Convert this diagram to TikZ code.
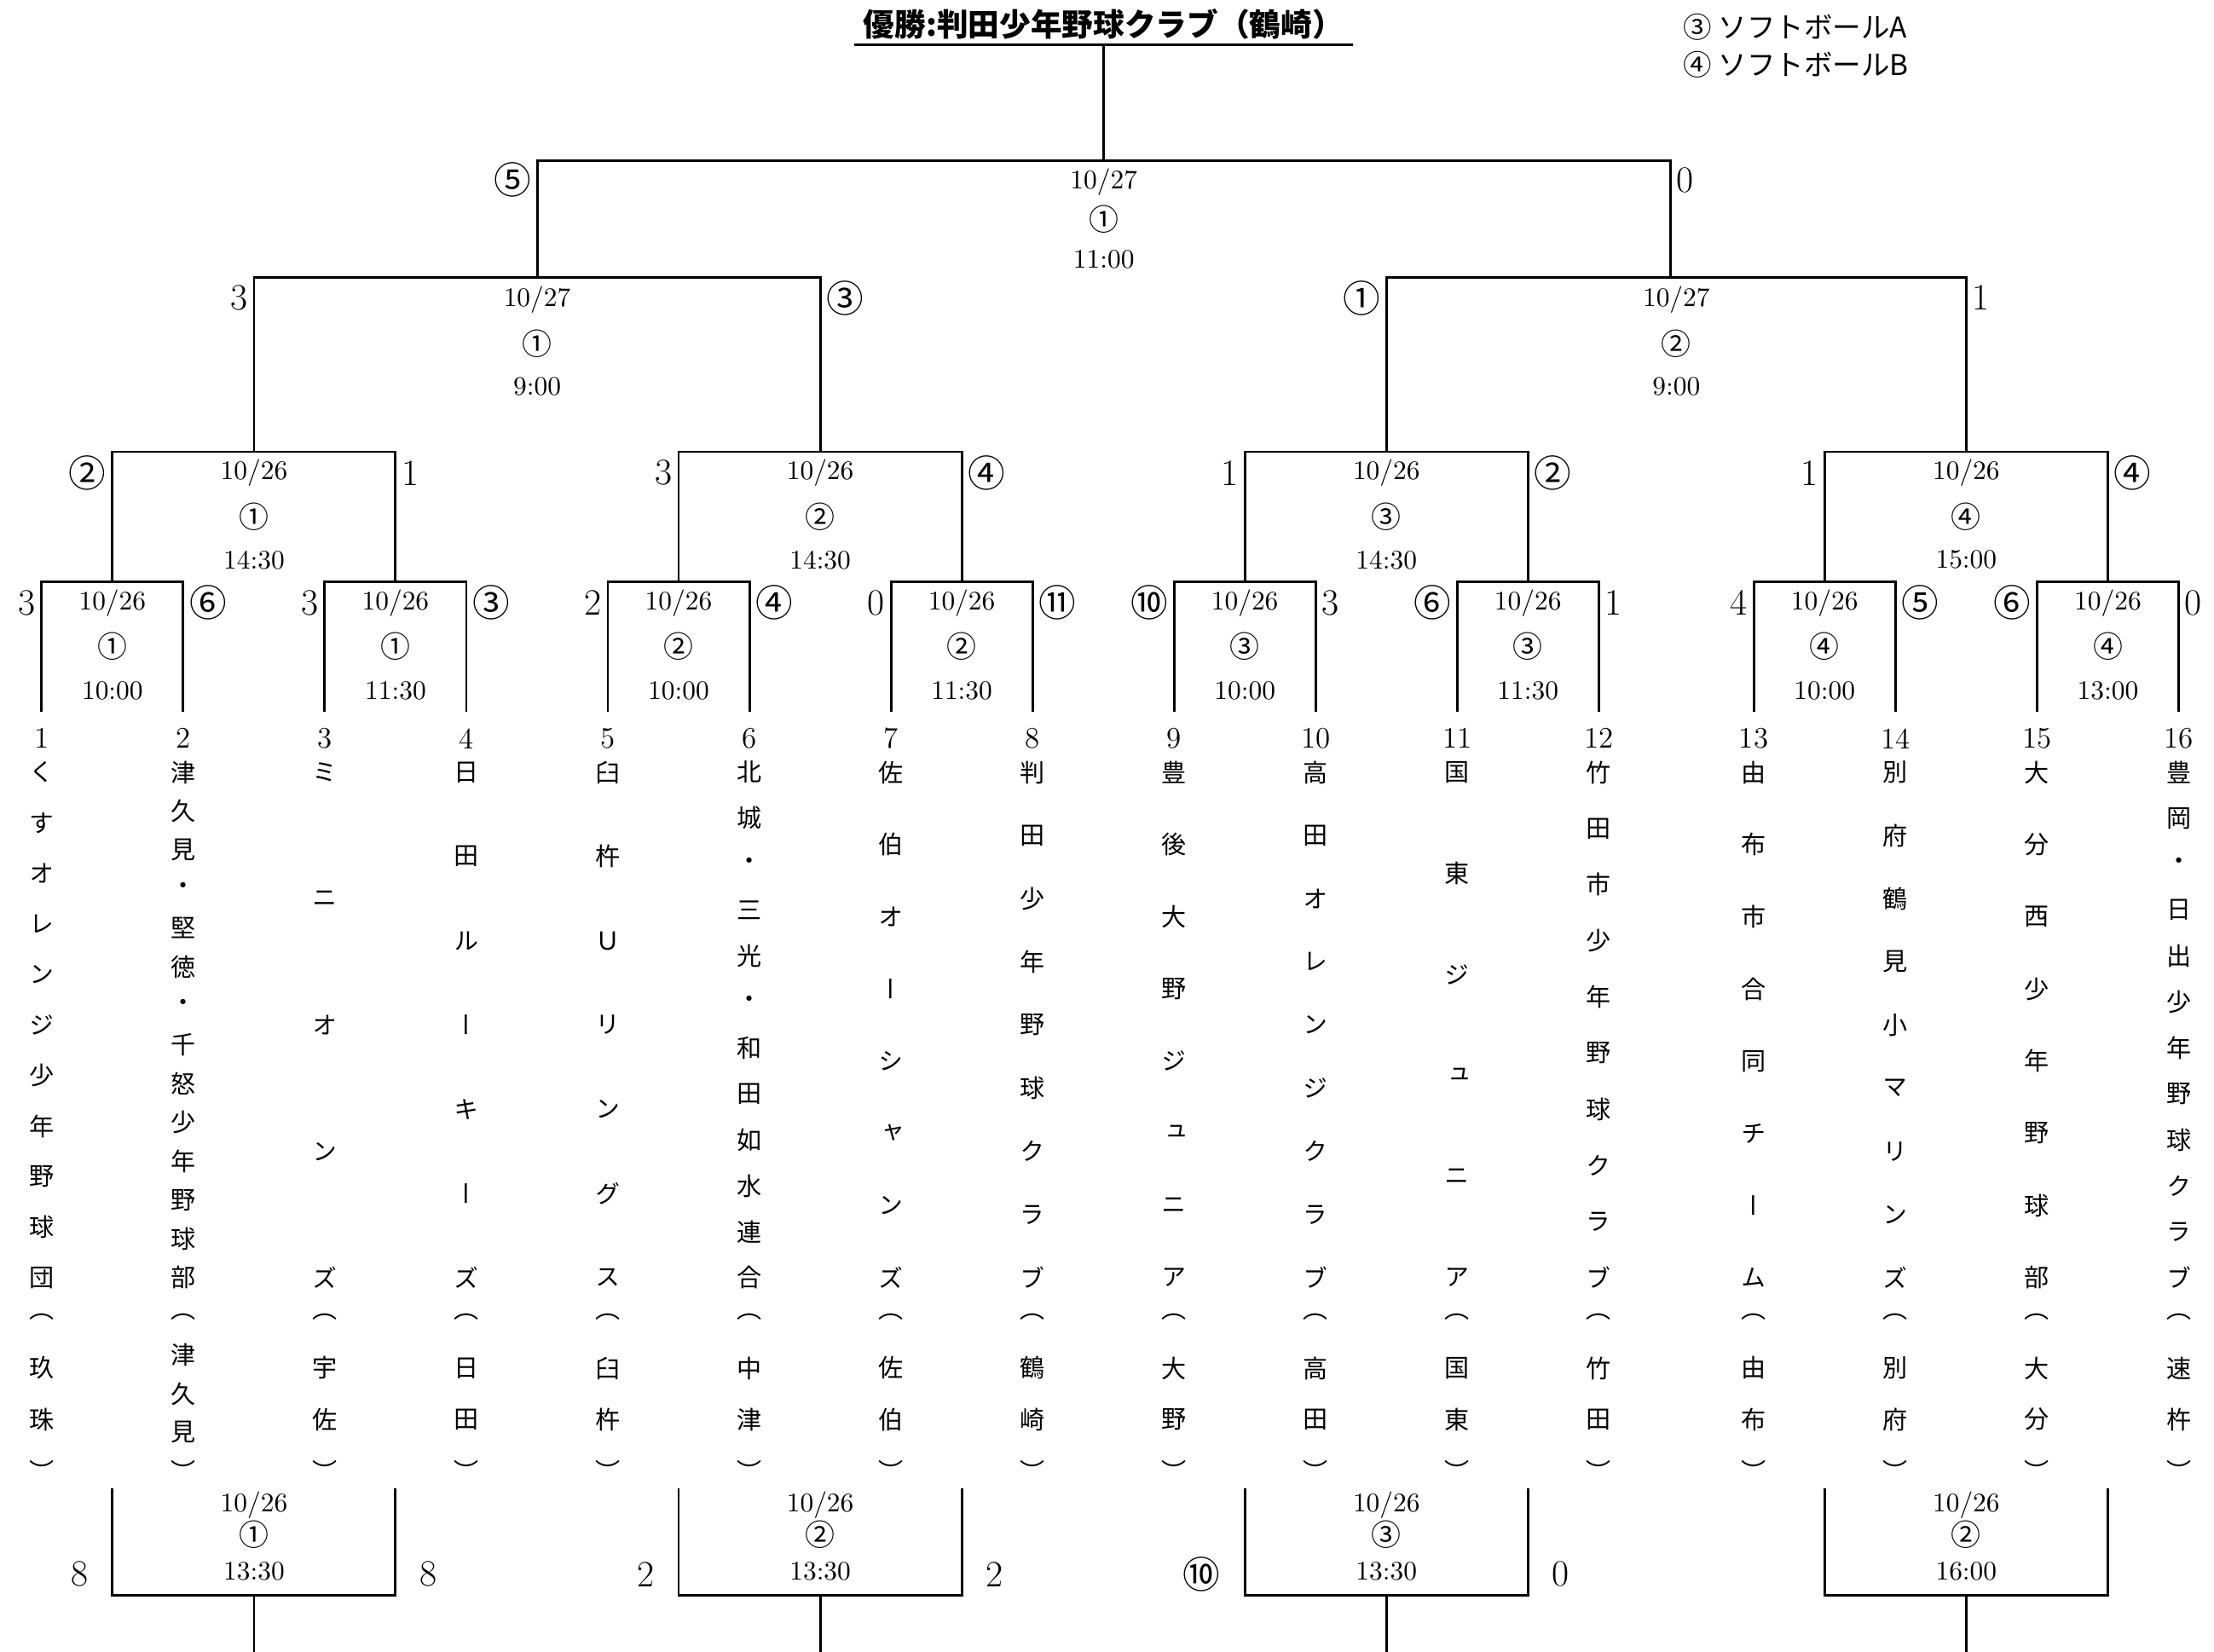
\documentclass[tikz,border=0pt]{standalone}
\usepackage{fontspec}
\newfontfamily\jpfont{Noto Sans CJK JP}
\newfontfamily\tatefont[RawFeature=+vert]{Noto Sans CJK JP}
\usetikzlibrary{calc}

\newcommand{\cn}[1]{{\jpfont #1}}

\tikzset{
  bracket/.style={line width=1pt},
  info/.style={inner sep=0pt, font=\fontsize{10.8}{12}\selectfont},
  court/.style={inner sep=0pt, font=\jpfont\fontsize{12}{13}\selectfont},
  score/.style={inner sep=0pt, font=\fontsize{15}{16}\selectfont},
  teamno/.style={inner sep=0pt, font=\fontsize{12}{13}\selectfont},
  namech/.style={inner sep=0pt, font=\tatefont\fontsize{10}{11}\selectfont},
  title/.style={inner sep=0pt, font=\jpfont\bfseries\fontsize{12.6}{14}\selectfont},
  legend/.style={inner sep=0pt, anchor=west, font=\jpfont\fontsize{11.5}{13}\selectfont}
}

% #1 x, #2 number, #3 name, #4 town
\newcommand{\teamcol}[4]{%
  \coordinate (t#2) at (#1,504);
  \node[teamno] (no#2) at (#1,523) {#2};
  \foreach \ch [count=\k] in {#3} {\xdef\nch{\k}}
  \foreach \ch [count=\k] in {#3}
    {\node[namech] (nm#2-\k) at (#1,{547+(\k-1)*358/(\nch-1)}) {\ch};}
  \foreach \ch [count=\k] in {（,#4,）} {\xdef\nch{\k}}
  \foreach \ch [count=\k] in {（,#4,）}
    {\node[namech] (tw#2-\k) at (#1,{932.7+(\k-1)*108.9/(\nch-1)}) {\ch};}
}

% #1 name, #2 x, #3-#5 y of lines, #6 date, #7 court, #8 time
\newcommand{\match}[8]{%
  \node[info] (#1-d) at (#2,#3) {#6};
  \node[court] (#1-c) at (#2,#4) {#7};
  \node[info] (#1-t) at (#2,#5) {#8};
}

% #1 name, #2 left x, #3 right x, #4 y, #5 gap, #6 left, #7 right
\newcommand{\scores}[7]{%
  \node[score, anchor=east] (#1-l) at (#2-#5,#4) {#6};
  \node[score, anchor=west] (#1-r) at (#3+#5,#4) {#7};
}

\begin{document}
\begin{tikzpicture}[x=0.02cm,y=-0.02cm]
  \useasboundingbox (0,0) rectangle (1568,1170);

  % title and legend
  \node[title] (champ) at (781.5,17) {優勝:判田少年野球クラブ（鶴崎）};
  \coordinate (ul-l) at (605,31.6);
  \coordinate (ul-r) at (958,31.6);
  \coordinate (top) at (781.7,31.6);
  \draw[bracket] (ul-l) -- (ul-r);
  \node[legend] (lgA) at (1192,19) {③ ソフトボールA};
  \node[legend] (lgB) at (1192,46) {④ ソフトボールB};

  % teams
  \teamcol{29.5}{1}{く,す,オ,レ,ン,ジ,少,年,野,球,団}{玖,珠}
  \teamcol{129.75}{2}{津,久,見,・,堅,徳,・,千,怒,少,年,野,球,部}{津,久,見}
  \teamcol{230}{3}{ミ,ニ,オ,ン,ズ}{宇,佐}
  \teamcol{330.25}{4}{日,田,ル,ー,キ,ー,ズ}{日,田}
  \teamcol{430.5}{5}{臼,杵,Ｕ,リ,ン,グ,ス}{臼,杵}
  \teamcol{530.75}{6}{北,城,・,三,光,・,和,田,如,水,連,合}{中,津}
  \teamcol{631}{7}{佐,伯,オ,ー,シ,ャ,ン,ズ}{佐,伯}
  \teamcol{731.25}{8}{判,田,少,年,野,球,ク,ラ,ブ}{鶴,崎}
  \teamcol{831.5}{9}{豊,後,大,野,ジ,ュ,ニ,ア}{大,野}
  \teamcol{931.75}{10}{高,田,オ,レ,ン,ジ,ク,ラ,ブ}{高,田}
  \teamcol{1032}{11}{国,東,ジ,ュ,ニ,ア}{国,東}
  \teamcol{1132.25}{12}{竹,田,市,少,年,野,球,ク,ラ,ブ}{竹,田}
  \teamcol{1242}{13}{由,布,市,合,同,チ,ー,ム}{由,布}
  \teamcol{1342.3}{14}{別,府,鶴,見,小,マ,リ,ン,ズ}{別,府}
  \teamcol{1442.7}{15}{大,分,西,少,年,野,球,部}{大,分}
  \teamcol{1543}{16}{豊,岡,・,日,出,少,年,野,球,ク,ラ,ブ}{速,杵}

  % bracket points
  \coordinate (r1) at (79.6,412);   \coordinate (r2) at (280.1,412);
  \coordinate (r3) at (480.6,412);  \coordinate (r4) at (681.1,412);
  \coordinate (r5) at (881.6,412);  \coordinate (r6) at (1082.1,412);
  \coordinate (r7) at (1292.2,412); \coordinate (r8) at (1492.8,412);
  \coordinate (q1) at (179.9,320);  \coordinate (q2) at (580.9,320);
  \coordinate (q3) at (981.9,320);  \coordinate (q4) at (1392.5,320);
  \coordinate (s1) at (380.4,196.3); \coordinate (s2) at (1183,196.3);
  \coordinate (f) at (781.7,113.7);

  \foreach \a/\b/\m in {1/2/r1,3/4/r2,5/6/r3,7/8/r4,9/10/r5,11/12/r6,13/14/r7,15/16/r8}
    \draw[bracket] (t\a) |- (\m) -| (t\b);
  \foreach \a/\b/\m in {r1/r2/q1,r3/r4/q2,r5/r6/q3,r7/r8/q4,q1/q2/s1,q3/q4/s2,s1/s2/f}
    \draw[bracket] (\a) |- (\m) -| (\b);
  \draw[bracket] (f) -- (top);

  % first round
  \match{m1}{79.6}{427}{458}{489}{10/26}{①}{10:00}
  \match{m2}{280.1}{427}{458}{489}{10/26}{①}{11:30}
  \match{m3}{480.6}{427}{458}{489}{10/26}{②}{10:00}
  \match{m4}{681.1}{427}{458}{489}{10/26}{②}{11:30}
  \match{m5}{881.6}{427}{458}{489}{10/26}{③}{10:00}
  \match{m6}{1082.1}{427}{458}{489}{10/26}{③}{11:30}
  \match{m7}{1292.2}{427}{458}{489}{10/26}{④}{10:00}
  \match{m8}{1492.8}{427}{458}{489}{10/26}{④}{13:00}
  \scores{m1}{29.5}{129.75}{427}{4}{3}{\cn{⑥}}
  \scores{m2}{230}{330.25}{427}{4}{3}{\cn{③}}
  \scores{m3}{430.5}{530.75}{427}{4}{2}{\cn{④}}
  \scores{m4}{631}{731.25}{427}{4}{0}{\cn{⑪}}
  \scores{m5}{831.5}{931.75}{427}{4}{\cn{⑩}}{3}
  \scores{m6}{1032}{1132.25}{427}{4}{\cn{⑥}}{1}
  \scores{m7}{1242}{1342.3}{427}{4}{4}{\cn{⑤}}
  \scores{m8}{1442.7}{1543}{427}{4}{\cn{⑥}}{0}

  % second round
  \match{qf1}{179.9}{335}{366}{396.5}{10/26}{①}{14:30}
  \match{qf2}{580.9}{335}{366}{396.5}{10/26}{②}{14:30}
  \match{qf3}{981.9}{335}{366}{396.5}{10/26}{③}{14:30}
  \match{qf4}{1392.5}{335}{366}{396.5}{10/26}{④}{15:00}
  \scores{qf1}{79.6}{280.1}{335}{4}{\cn{②}}{1}
  \scores{qf2}{480.6}{681.1}{335}{4}{3}{\cn{④}}
  \scores{qf3}{881.6}{1082.1}{335}{4}{1}{\cn{②}}
  \scores{qf4}{1292.2}{1492.8}{335}{4}{1}{\cn{④}}

  % semi finals and final
  \match{sf1}{380.4}{212.4}{243.5}{273.8}{10/27}{①}{9:00}
  \match{sf2}{1187.2}{212.4}{243.5}{273.8}{10/27}{②}{9:00}
  \scores{sf1}{179.9}{580.9}{211}{4}{3}{\cn{③}}
  \scores{sf2}{981.9}{1392.5}{211}{4}{\cn{①}}{1}
  \match{fin}{781.7}{128.8}{155.5}{183.5}{10/27}{①}{11:00}
  \scores{fin}{380.4}{1183}{127.5}{4}{\cn{⑤}}{0}

  % lower games
  \foreach \n/\l/\c/\r in {b1/79.6/179.9/280.1,b2/480.6/580.9/681.1,b3/881.6/981.9/1082.1,b4/1292.2/1392.5/1492.8}{
    \coordinate (\n l) at (\l,1054);
    \coordinate (\n r) at (\r,1054);
    \coordinate (\n) at (\c,1130);
    \coordinate (\n e) at (\c,1170);
    \draw[bracket] (\n l) |- (\n) -| (\n r);
    \draw[bracket] (\n) -- (\n e);
  }
  \match{lg1}{179.9}{1066}{1087}{1113}{10/26}{①}{13:30}
  \match{lg2}{580.9}{1066}{1087}{1113}{10/26}{②}{13:30}
  \match{lg3}{981.9}{1066}{1087}{1113}{10/26}{③}{13:30}
  \match{lg4}{1392.5}{1066}{1087}{1113}{10/26}{②}{16:00}
  \scores{lg1}{79.6}{280.1}{1115}{17}{8}{8}
  \scores{lg2}{480.6}{681.1}{1115}{17}{2}{2}
  \scores{lg3}{881.6}{1082.1}{1115}{17}{\cn{⑩}}{0}
\end{tikzpicture}
\end{document}
